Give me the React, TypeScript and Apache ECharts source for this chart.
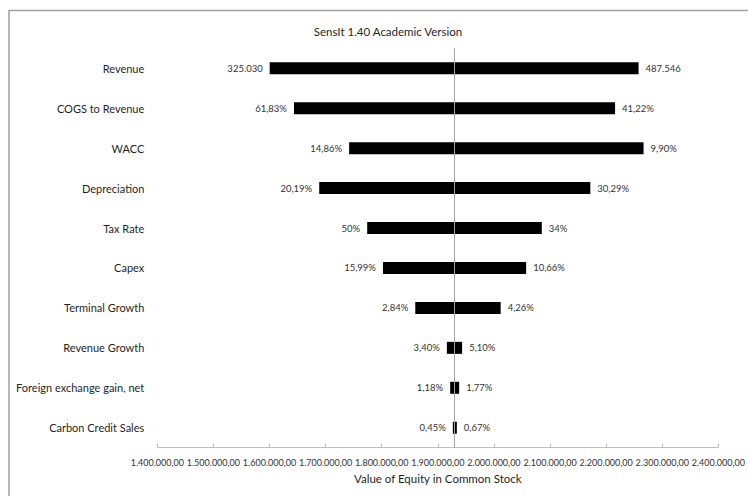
import React, { useEffect, useRef } from "react";
import * as echarts from "echarts";

const categories = [
  "Revenue",
  "COGS to Revenue",
  "WACC",
  "Depreciation",
  "Tax Rate",
  "Capex",
  "Terminal Growth",
  "Revenue Growth",
  "Foreign exchange gain, net",
  "Carbon Credit Sales",
];
const baseValue = 1929600;
const lowValues = [1600300, 1643600, 1741900, 1688600, 1774100, 1802200, 1859800, 1916100, 1922000, 1926700];
const highValues = [2257800, 2215900, 2266700, 2171800, 2085300, 2057400, 2012000, 1943300, 1938000, 1933900];
const lowLabels = ["325.030", "61,83%", "14,86%", "20,19%", "50%", "15,99%", "2,84%", "3,40%", "1,18%", "0,45%"];
const highLabels = ["487.546", "41,22%", "9,90%", "30,29%", "34%", "10,66%", "4,26%", "5,10%", "1,77%", "0,67%"];
const axisMin = 1400000;
const axisMax = 2400000;
const axisStep = 100000;

const FONT = "Lato, 'Liberation Sans', Arial, sans-serif";

function fmtTick(v: number): string {
  const s = Math.round(v).toString().replace(/\B(?=(\d{3})+(?!\d))/g, ".");
  return s + ",00";
}

export default function App() {
  const ref = useRef<HTMLDivElement>(null);
  useEffect(() => {
    if (!ref.current) return;
    const chart = echarts.init(ref.current, null, { renderer: "svg" });
    const labelStyle = { fontFamily: FONT, fontSize: 9.5, color: "#333333" };
    chart.setOption({
      animation: false,
      backgroundColor: "#ffffff",
      title: {
        text: "SensIt 1.40 Academic Version",
        left: 383,
        top: 20,
        textAlign: "center",
        textStyle: { fontFamily: FONT, fontSize: 11.5, fontWeight: "normal", color: "#1f1f1f" },
      },
      graphic: [
        {
          type: "rect",
          shape: { x: 9, y: 10.5, width: 800, height: 600 },
          style: { fill: "none", stroke: "#a0a0a0", lineWidth: 1.5 },
          silent: true,
        },
      ],
      grid: { left: 157.3, right: 28, top: 48.3, bottom: 48.3 },
      xAxis: {
        type: "value",
        min: axisMin,
        max: axisMax,
        interval: axisStep,
        name: "Value of Equity in Common Stock",
        nameLocation: "middle",
        nameGap: 25,
        nameTextStyle: { fontFamily: FONT, fontSize: 11.5, color: "#1f1f1f" },
        axisLine: { show: true, lineStyle: { color: "#bfbfbf", width: 1 } },
        axisTick: { show: true, inside: true, length: 4, lineStyle: { color: "#bfbfbf" } },
        splitLine: { show: false },
        axisLabel: {
          formatter: (v: number) => fmtTick(v),
          fontFamily: FONT,
          fontSize: 9,
          color: "#333333",
          margin: 10,
        },
      },
      yAxis: {
        type: "category",
        data: categories,
        inverse: true,
        axisLine: { show: false },
        axisTick: { show: false },
        axisLabel: { fontFamily: FONT, fontSize: 11, color: "#1f1f1f", margin: 13 },
      },
      series: [
        {
          type: "bar",
          stack: "t",
          barWidth: 12,
          silent: true,
          itemStyle: { color: "transparent" },
          data: lowValues,
        },
        {
          type: "bar",
          stack: "t",
          barWidth: 12,
          itemStyle: { color: "#000000" },
          label: {
            show: true,
            position: "left",
            distance: 7,
            ...labelStyle,
            formatter: (p: any) => lowLabels[p.dataIndex],
          },
          data: lowValues.map((v) => baseValue - v),
        },
        {
          type: "bar",
          stack: "t",
          barWidth: 12,
          itemStyle: { color: "#000000" },
          label: {
            show: true,
            position: "right",
            distance: 7,
            ...labelStyle,
            formatter: (p: any) => highLabels[p.dataIndex],
          },
          data: highValues.map((v) => v - baseValue),
          markLine: {
            silent: true,
            symbol: "none",
            label: { show: false },
            lineStyle: { color: "#a6a6a6", width: 1, type: "solid" },
            data: [{ xAxis: baseValue }],
          },
        },
      ],
    });
    return () => chart.dispose();
  }, []);
  return (
    <div
      ref={ref}
      style={{ position: "fixed", left: 0, top: 0, width: 748, height: 496 }}
    />
  );
}
